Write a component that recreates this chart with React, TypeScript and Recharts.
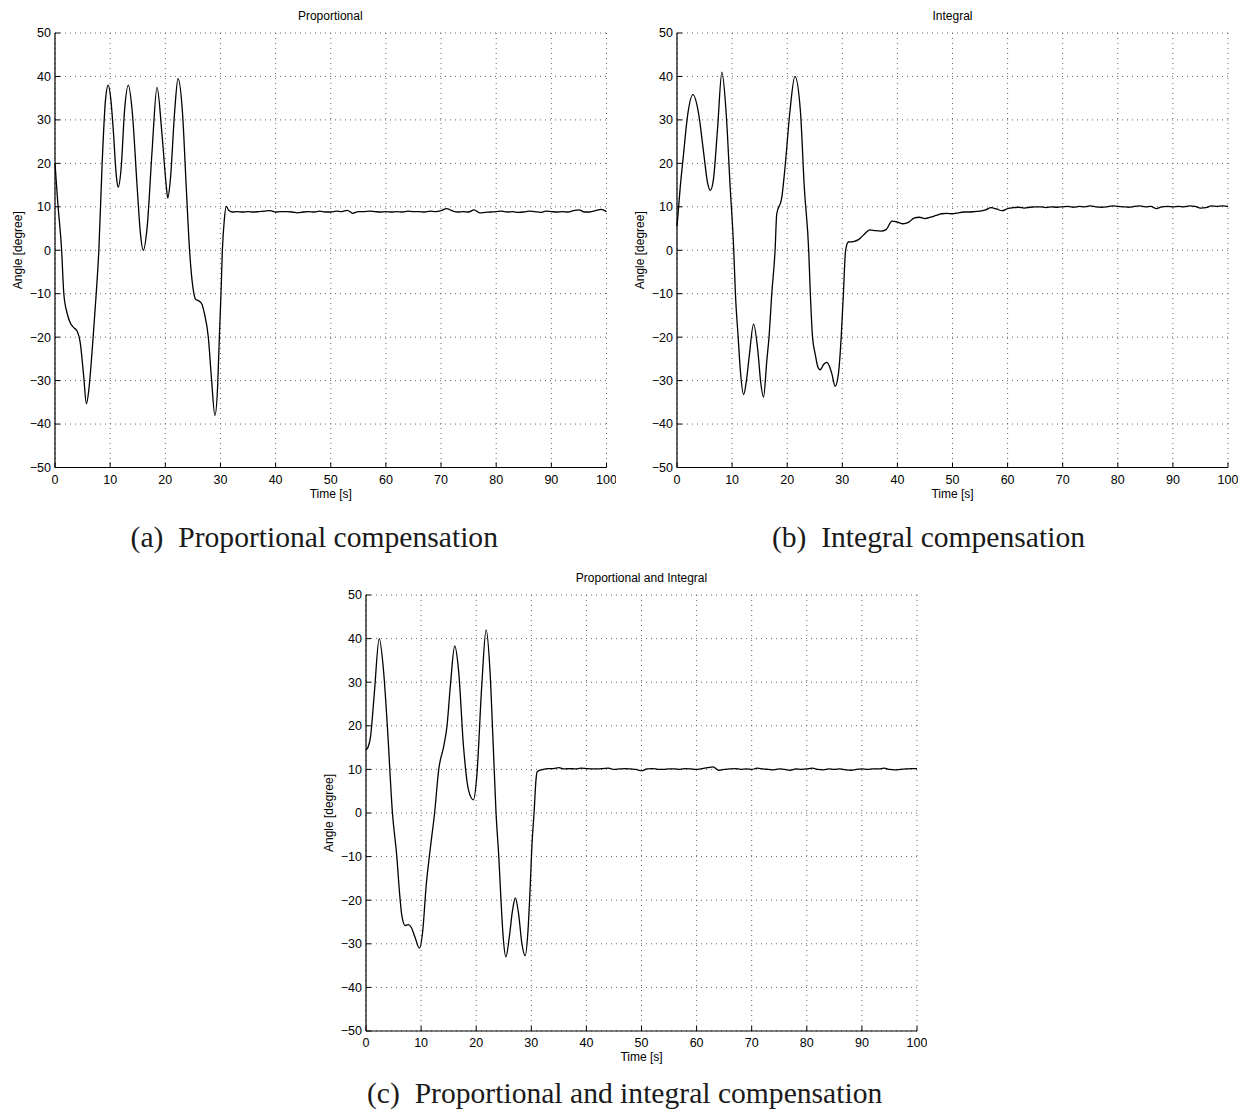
import React from 'react';
import { LineChart, Line, XAxis, YAxis, CartesianGrid } from 'recharts';

const xTicks = [0, 10, 20, 30, 40, 50, 60, 70, 80, 90, 100];
const yTicks = [-50, -40, -30, -20, -10, 0, 10, 20, 30, 40, 50];

// shared time base of the steady-state part (s)
const steadyTime = [
  33, 34, 35, 36, 37, 38, 39, 40, 41, 42,
  43, 44, 45, 46, 47, 48, 49, 50, 51, 52,
  53, 54, 55, 56, 57, 58, 59, 60, 61, 62,
  63, 64, 65, 66, 67, 68, 69, 70, 71, 72,
  73, 74, 75, 76, 77, 78, 79, 80, 81, 82,
  83, 84, 85, 86, 87, 88, 89, 90, 91, 92,
  93, 94, 95, 96, 97, 98, 99, 100,
];

// (a) proportional
const propTime = [
  0, 0.5, 1.2, 1.6, 2.2, 2.8, 3.4, 4.0, 4.6, 5.2, 5.7, 6.1, 6.5, 7.0, 7.5, 7.95,
  8.55, 9.15, 9.65, 10.1, 10.55, 11.15, 11.45, 12.0, 12.6, 13.3, 14.0, 14.9, 15.5,
  16.0, 16.7, 17.6, 18.5, 19.4, 20.2, 20.45, 20.9, 21.7, 22.3, 23.1, 23.8, 24.4,
  25.0, 25.5, 26.0, 26.6, 27.1, 27.8, 28.4, 29.0, 29.5, 29.8, 30.1, 30.35, 30.7,
  31.05, 31.5, 32.2,
];
const propAngle = [
  20, 11, 0, -10, -14.5, -16.8, -17.8, -18.6, -21.5, -29, -35.3, -32.5, -27, -18.5, -9.5, 0,
  20, 34.5, 38, 35, 28, 16.7, 14.5, 19, 32, 38, 32, 14.5, 3.7,
  0, 5.2, 22.8, 37.5, 26.7, 14.5, 12, 16, 32, 39.5, 32, 14.5, 0,
  -8.5, -11.3, -11.6, -12.3, -14.6, -20, -30, -38, -31, -20, -10, 0, 7,
  10.1, 9.2, 8.8,
];
const propSteady = [
  8.9, 8.8, 8.9, 8.8, 8.9, 9.0, 9.1, 8.8, 8.9, 8.9,
  8.8, 8.6, 8.8, 8.9, 8.8, 9.0, 8.8, 8.8, 9.0, 8.9,
  9.2, 8.5, 8.9, 8.9, 9.0, 8.9, 8.8, 8.9, 8.8, 8.9,
  8.8, 9.0, 8.9, 8.9, 8.8, 9.0, 8.9, 9.1, 9.6, 9.1,
  8.8, 8.9, 8.8, 9.3, 8.6, 8.7, 8.8, 8.9, 9.0, 8.8,
  8.9, 8.7, 8.8, 9.0, 8.9, 8.7, 9.0, 8.9, 8.8, 8.9,
  8.8, 9.1, 9.3, 8.8, 8.8, 9.1, 9.4, 8.9,
];

// (b) integral
const intTime = [
  0, 0.6, 1.2, 1.9, 2.9, 3.9, 4.85, 5.55, 6.05, 6.6, 7.35, 8.15, 8.9, 9.65, 10.3,
  10.6, 11.1, 11.5, 12.1, 12.6, 13.1, 13.9, 14.7, 15.2, 15.7, 16.3, 16.7, 17.2, 17.8,
  18.1, 19.0, 19.6, 20.5, 21.4, 22.4, 23.1, 23.9, 24.2, 24.6, 25.1, 25.6, 26.0, 26.6,
  27.2, 27.7, 28.1, 28.7, 29.3, 29.8, 30.2, 30.6, 31.1, 32,
];
const intAngle = [
  5.5, 14.7, 22.3, 30.8, 35.8, 31.6, 22.3, 15.5, 13.8, 16.2, 27.8, 41, 32, 14.5, 0,
  -10, -20, -27.7, -33.2, -30, -24.5, -17, -23.5, -30.5, -33.8, -25.4, -20, -10, 0,
  8.3, 12, 19, 32, 40, 32, 14.5, 0, -10, -20, -24, -27, -27.5, -26.3,
  -25.8, -26.8, -28.4, -31.3, -28.4, -20, -10, 0, 1.9, 2.0,
];
const intSteady = [
  2.5, 3.7, 4.7, 4.5, 4.4, 4.8, 6.7, 6.5, 6.1, 6.4,
  7.4, 7.6, 7.3, 7.6, 8.0, 8.4, 8.5, 8.4, 8.6, 8.8,
  8.8, 8.9, 9.0, 9.3, 9.8, 9.5, 9.1, 9.6, 9.8, 9.9,
  9.7, 9.9, 10.0, 10.0, 9.8, 10.0, 9.9, 10.0, 10.1, 9.9,
  10.1, 10.0, 10.2, 10.0, 9.9, 10.0, 10.2, 10.1, 10.0, 9.9,
  10.1, 10.2, 10.0, 10.1, 9.6, 10.0, 10.1, 10.0, 10.1, 10.0,
  10.2, 10.1, 9.7, 9.8, 10.2, 10.1, 10.2, 10.1,
];

// (c) proportional and integral
const piTime = [
  0, 0.4, 0.8, 1.5, 2.4, 3.2, 3.9, 4.8, 5.6, 6.1, 6.5, 7.1, 7.7, 8.2, 8.9,
  9.7, 10.3, 10.9, 11.7, 12.45, 13.2, 14.1, 14.7, 15.3, 16.1, 16.8, 17.7, 18.6, 19.5,
  20.1, 21.0, 21.8, 22.5, 23.1, 23.6, 24.1, 24.5, 24.9, 25.4, 26.0, 26.6, 27.1, 27.7,
  28.3, 28.9, 29.4, 29.8, 30.1, 30.5, 30.9, 31.1, 32.2,
];
const piAngle = [
  14.5, 15.2, 17.3, 27.3, 40, 32.4, 19.4, 0, -10.1, -18.5, -23.5, -25.8, -25.6, -26.2, -28.5,
  -31, -27, -17, -7.8, 0, 10, 15.3, 19.9, 29, 38.3, 32.7, 15.2, 5.3, 3,
  8.3, 29, 42, 32.7, 15.2, 0, -10, -20, -28.5, -33, -28.5, -22.3, -19.5, -23.2,
  -30, -32.7, -27, -17, -7.8, 0, 8.3, 9.5, 10,
];
const piSteady = [
  10.2, 10.2, 10.4, 10.1, 10.2, 10.1, 10.3, 10.2, 10.1, 10.1,
  10.2, 10.3, 10.0, 10.1, 10.2, 10.1, 10.0, 9.7, 10.1, 10.2,
  10.0, 10.0, 10.1, 10.1, 10.0, 10.2, 10.1, 10.0, 10.2, 10.4,
  10.6, 9.8, 10.0, 10.1, 10.2, 10.0, 10.1, 10.0, 10.3, 10.1,
  10.0, 9.9, 10.1, 10.0, 9.8, 10.1, 10.0, 10.1, 10.3, 10.0,
  9.9, 10.1, 10.0, 10.1, 9.9, 9.8, 10.0, 10.1, 10.0, 10.1,
  10.1, 10.3, 10.0, 9.9, 10.0, 10.1, 10.2, 10.2,
];

const SANS = '"Liberation Sans", Arial, Helvetica, sans-serif';
const SERIF = '"Liberation Serif", "Times New Roman", serif';
const TICK_FONT = 12.5;

function buildData(time: number[], angle: number[], steady: number[]) {
  const head = time.map((t, i) => ({ t, v: angle[i] }));
  const tail = steadyTime.map((t, i) => ({ t, v: steady[i] }));
  return head.concat(tail);
}

const fmt = (v: number) => String(v).replace('-', '\u2212');

const BottomTick = (props: any) => {
  const { x, y, payload } = props;
  return (
    <g>
      <line x1={x} y1={y} x2={x} y2={y - 5} stroke="#000" strokeWidth={1} />
      <text x={x} y={y + 16} textAnchor="middle" fontSize={TICK_FONT} fontFamily={SANS} fill="#000">
        {fmt(payload.value)}
      </text>
    </g>
  );
};

const LeftTick = (props: any) => {
  const { x, y, payload } = props;
  return (
    <g>
      <line x1={x} y1={y} x2={x + 5} y2={y} stroke="#000" strokeWidth={1} />
      <text x={x - 4} y={y + 4.4} textAnchor="end" fontSize={TICK_FONT} fontFamily={SANS} fill="#000">
        {fmt(payload.value)}
      </text>
    </g>
  );
};

const TopTick = (props: any) => {
  const { x, y } = props;
  return <line x1={x} y1={y} x2={x} y2={y + 5} stroke="#000" strokeWidth={1} />;
};

const RightTick = (props: any) => {
  const { x, y } = props;
  return <line x1={x} y1={y} x2={x - 5} y2={y} stroke="#000" strokeWidth={1} />;
};

interface PanelProps {
  left: number;
  top: number;
  w: number;
  h: number;
  title: string;
  data: { t: number; v: number }[];
}

function Panel({ left, top, w, h, title, data }: PanelProps) {
  const yw = 75;
  const xh = 40;
  const mt = 10;
  const mr = 10;
  const axisStyle = { stroke: '#000', strokeWidth: 1.2 };
  return (
    <div style={{ position: 'absolute', left: left - yw, top: top - mt }}>
      <div
        style={{
          position: 'absolute',
          left: yw,
          top: mt - 24,
          width: w,
          textAlign: 'center',
          fontFamily: SANS,
          fontSize: 12,
          lineHeight: '14px',
          color: '#000',
        }}
      >
        {title}
      </div>
      <LineChart
        width={yw + w + mr}
        height={mt + h + xh}
        data={data}
        margin={{ top: mt, right: mr, bottom: 0, left: 0 }}
      >
        <CartesianGrid stroke="#555" strokeWidth={0.9} strokeDasharray="1 4" fill="none" />
        <XAxis
          dataKey="t"
          type="number"
          domain={[0, 100]}
          ticks={xTicks}
          interval={0}
          height={xh}
          tickSize={0}
          tickMargin={0}
          tickLine={false}
          axisLine={axisStyle}
          tick={<BottomTick />}
          label={{ value: 'Time [s]', position: 'insideBottom', offset: 10, fontSize: 12, fontFamily: SANS, fill: '#000' }}
        />
        <XAxis
          xAxisId="top"
          orientation="top"
          dataKey="t"
          type="number"
          domain={[0, 100]}
          ticks={xTicks}
          interval={0}
          height={0}
          tickSize={0}
          tickMargin={0}
          tickLine={false}
          axisLine={axisStyle}
          tick={<TopTick />}
        />
        <YAxis
          type="number"
          domain={[-50, 50]}
          ticks={yTicks}
          interval={0}
          width={yw}
          tickSize={0}
          tickMargin={0}
          tickLine={false}
          axisLine={axisStyle}
          tick={<LeftTick />}
          label={{ value: 'Angle [degree]', angle: -90, position: 'center', fontSize: 12, fontFamily: SANS, fill: '#000' }}
        />
        <YAxis
          yAxisId="right"
          orientation="right"
          type="number"
          domain={[-50, 50]}
          ticks={yTicks}
          interval={0}
          width={0}
          tickSize={0}
          tickMargin={0}
          tickLine={false}
          axisLine={axisStyle}
          tick={<RightTick />}
        />
        <Line
          type="monotone"
          dataKey="v"
          stroke="#000"
          strokeWidth={1.3}
          dot={false}
          activeDot={false}
          isAnimationActive={false}
        />
        <Line
          xAxisId="top"
          yAxisId="right"
          type="monotone"
          dataKey="v"
          stroke="none"
          dot={false}
          activeDot={false}
          isAnimationActive={false}
        />
      </LineChart>
    </div>
  );
}

const captionStyle: React.CSSProperties = {
  position: 'absolute',
  fontFamily: SERIF,
  fontSize: 29.6,
  lineHeight: '30px',
  color: '#1a1a1a',
  whiteSpace: 'pre',
};

export default function App() {
  const propData = buildData(propTime, propAngle, propSteady);
  const intData = buildData(intTime, intAngle, intSteady);
  const piData = buildData(piTime, piAngle, piSteady);
  return (
    <div
      style={{
        position: 'absolute',
        left: 0,
        top: 0,
        width: 1247,
        height: 1110,
        overflow: 'hidden',
        background: '#fff',
      }}
    >
      <Panel left={54.5} top={32.5} w={551.5} h={434.5} title="Proportional" data={propData} />
      <Panel left={677} top={32.5} w={551} h={434.5} title="Integral" data={intData} />
      <Panel left={366} top={594.5} w={551} h={436} title="Proportional and Integral" data={piData} />
      <div style={{ ...captionStyle, left: 130.6, top: 522 }}>{'(a)  Proportional compensation'}</div>
      <div style={{ ...captionStyle, right: 1247 - 1085, top: 522 }}>{'(b)  Integral compensation'}</div>
      <div style={{ ...captionStyle, left: 367, top: 1078 }}>{'(c)  Proportional and integral compensation'}</div>
    </div>
  );
}
